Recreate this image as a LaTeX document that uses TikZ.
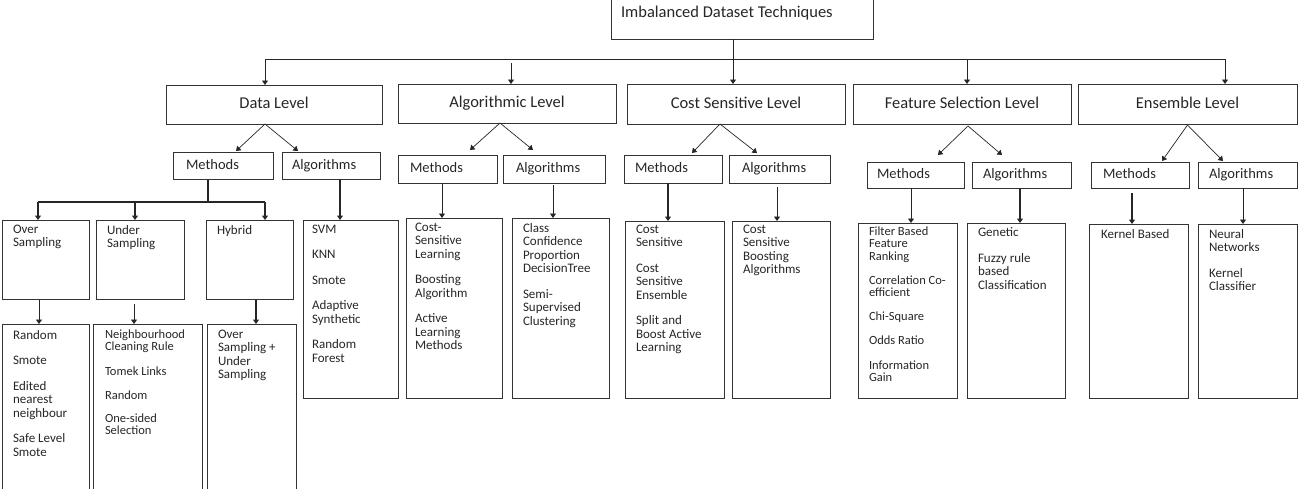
\documentclass[tikz,border=0pt]{standalone}
\usepackage{fontspec}
\setmainfont{Carlito}
\usetikzlibrary{arrows.meta,calc}
\begin{document}
\begin{tikzpicture}[x=1pt,y=-1pt,
  bx/.style={draw=black!80, line width=0.9pt, inner sep=0pt, outer sep=0pt, anchor=north west},
  lvl/.style={bx, font=\fontsize{16.5}{18}\selectfont, text=black!85, text height=11.5pt, text depth=3.5pt},
  sub/.style={bx, font=\fontsize{14.5}{16}\selectfont, text=black!85, align=left, text height=10pt, text depth=3pt},
  lst/.style={inner sep=0pt, outer sep=0pt, anchor=north west, align=left, text=black!85,
    font=\fontsize{13}{13.5}\selectfont},
  lsts/.style={lst, font=\fontsize{12.5}{12.2}\selectfont},
  ln/.style={draw=black!85, line width=0.9pt},
  lnt/.style={draw=black!85, line width=1.8pt},
  arr/.style={ln, -{Triangle[length=4.5pt,width=6pt]}},
  arrt/.style={lnt, -{Triangle[length=4.5pt,width=6pt]}},
  arrm/.style={draw=black!85, line width=1.3pt, -{Triangle[length=4.5pt,width=6pt]}}
]
\path[use as bounding box] (0,0) rectangle (1298,488);

% top
\node[bx, minimum width=262pt, minimum height=41pt] (top) at (611,-2) {};
\node[lst, font=\fontsize{16.5}{18}\selectfont] (toptxt) at ($(top.north west)+(10,8)$) {Imbalanced Dataset Techniques};

% level boxes
\node[lvl, minimum width=216pt, minimum height=39pt] (dl) at (166,85) {Data Level};
\node[lvl, minimum width=218pt, minimum height=39pt] (al) at (398,84) {Algorithmic Level};
\node[lvl, minimum width=218pt, minimum height=40pt] (csl) at (627,84) {Cost Sensitive Level};
\node[lvl, minimum width=218pt, minimum height=40pt] (fsl) at (853,84) {Feature Selection Level};
\node[lvl, minimum width=219pt, minimum height=40pt] (enl) at (1078,84) {Ensemble Level};

% methods / algorithms
\node[sub, minimum width=100pt, minimum height=27pt, text width=74pt, inner xsep=13pt] (dlm) at (173,152) {Methods};
\node[sub, minimum width=98pt, minimum height=27pt, text width=78pt, inner xsep=10pt] (dla) at (282,152) {Algorithms};
\node[sub, minimum width=99pt, minimum height=28pt, text width=75pt, inner xsep=12pt] (alm) at (398,155) {Methods};
\node[sub, minimum width=102pt, minimum height=28pt, text width=76pt, inner xsep=13pt] (ala) at (503,155) {Algorithms};
\node[sub, minimum width=98pt, minimum height=28pt, text width=76pt, inner xsep=11pt] (csm) at (624,155) {Methods};
\node[sub, minimum width=101pt, minimum height=28pt, text width=75pt, inner xsep=13pt] (csa) at (729,155) {Algorithms};
\node[sub, minimum width=97pt, minimum height=26pt, text width=77pt, inner xsep=10pt] (fsm) at (867,162) {Methods};
\node[sub, minimum width=99pt, minimum height=26pt, text width=77pt, inner xsep=11pt] (fsa) at (972,162) {Algorithms};
\node[sub, minimum width=98pt, minimum height=26pt, text width=74pt, inner xsep=12pt] (enm) at (1091,162) {Methods};
\node[sub, minimum width=99pt, minimum height=26pt, text width=77pt, inner xsep=11pt] (ena) at (1198,162) {Algorithms};

% data level sub boxes
\node[bx, minimum width=87pt, minimum height=79pt] (os) at (2,220) {};
\node[bx, minimum width=88pt, minimum height=79pt] (us) at (96,220) {};
\node[bx, minimum width=87pt, minimum height=79pt] (hy) at (206,220) {};
\node[bx, minimum width=87pt, minimum height=175pt] (rnd) at (2,324) {};
\node[bx, minimum width=109pt, minimum height=175pt] (nb) at (93,324) {};
\node[bx, minimum width=89pt, minimum height=175pt] (osus) at (207,324) {};
\node[bx, minimum width=95pt, minimum height=178pt] (svm) at (303,220) {};
% other list boxes
\node[bx, minimum width=96pt, minimum height=180pt] (csla) at (406,218) {};
\node[bx, minimum width=97pt, minimum height=180pt] (ccp) at (512,218) {};
\node[bx, minimum width=99pt, minimum height=177pt] (cs1) at (625,221) {};
\node[bx, minimum width=98pt, minimum height=177pt] (cs2) at (732,221) {};
\node[bx, minimum width=99pt, minimum height=175pt] (fb) at (858,223) {};
\node[bx, minimum width=98pt, minimum height=175pt] (gen) at (967,223) {};
\node[bx, minimum width=99pt, minimum height=174pt] (kb) at (1089,224) {};
\node[bx, minimum width=99pt, minimum height=174pt] (nn) at (1198,224) {};

% texts
\node[lst] (ostx) at ($(os.north west)+(11,5)$) {Over\\Sampling};
\node[lst] (ustx) at ($(us.north west)+(11,5)$) {Under\\Sampling};
\node[lst] (hytx) at ($(hy.north west)+(11,5)$) {Hybrid};
\node[lst] (rndtx) at ($(rnd.north west)+(11,6)$) {Random\\[12pt]Smote\\[12pt]Edited\\nearest\\neighbour\\[12pt]Safe Level\\Smote};
\node[lsts] (nbtx) at ($(nb.north west)+(12,6)$) {Neighbourhood\\Cleaning Rule\\[12pt]Tomek Links\\[12pt]Random\\[11pt]One-sided\\Selection};
\node[lst] (osustx) at ($(osus.north west)+(11,6)$) {Over\\Sampling +\\Under\\Sampling};
\node[lst] (svmtx) at ($(svm.north west)+(9,5)$) {SVM\\[12pt]KNN\\[12pt]Smote\\[12pt]Adaptive\\Synthetic\\[12pt]Random\\Forest};
\node[lst] (cslatx) at ($(csla.north west)+(9,5)$) {Cost-\\Sensitive\\Learning\\[12pt]Boosting\\Algorithm\\[12pt]Active\\Learning\\Methods};
\node[lst] (ccptx) at ($(ccp.north west)+(11,5)$) {Class\\Confidence\\Proportion\\DecisionTree\\[12pt]Semi-\\Supervised\\Clustering};
\node[lst] (cs1tx) at ($(cs1.north west)+(11,4)$) {Cost\\Sensitive\\[12pt]Cost\\Sensitive\\Ensemble\\[12pt]Split and\\Boost Active\\Learning};
\node[lst] (cs2tx) at ($(cs2.north west)+(11,4)$) {Cost\\Sensitive\\Boosting\\Algorithms};
\node[lsts] (fbtx) at ($(fb.north west)+(11,4)$) {Filter Based\\Feature\\Ranking\\[12pt]Correlation Co-\\efficient\\[12pt]Chi-Square\\[12pt]Odds Ratio\\[12pt]Information\\Gain};
\node[lst] (gentx) at ($(gen.north west)+(11,5)$) {Genetic\\[12pt]Fuzzy rule\\based\\Classification};
\node[lst] (kbtx) at ($(kb.north west)+(12,5)$) {Kernel Based};
\node[lst] (nntx) at ($(nn.north west)+(11,5)$) {Neural\\Networks\\[12pt]Kernel\\Classifier};

% top bus
\coordinate (b1) at (265,59);
\coordinate (b2) at (511,63);
\coordinate (bj) at (733,59);
\coordinate (b4) at (967,59);
\coordinate (bE) at (1225,59);
\draw[ln] (b1) -- (bE);
\draw[arr] (bj |- top.south) -- (bj |- csl.north);
\draw[arr] (b1) -- (b1 |- dl.north);
\draw[arr] (b2) -- (b2 |- al.north);
\draw[arr] (b4) -- (b4 |- fsl.north);
\draw[arr] (bE) -- (bE |- enl.north);

% diverging arrows
\draw[arr, line width=0.7pt] ($(dl.south)+(-9,0)$) -- ($(dlm.north west)+(63,-1)$);
\draw[arr, line width=0.7pt] ($(dl.south)+(-9,0)$) -- ($(dla.north west)+(16,-1)$);
\draw[arr, line width=0.7pt] ($(al.south)+(-7,0)$) -- ($(alm.north west)+(72,-5)$);
\draw[arr, line width=0.7pt] ($(al.south)+(-7,0)$) -- ($(ala.north west)+(30,-5)$);
\draw[arr, line width=0.7pt] ($(csl.south)+(-16,0)$) -- ($(csm.north west)+(68,-2)$);
\draw[arr, line width=0.7pt] ($(csl.south)+(-16,0)$) -- ($(csa.north west)+(28,-2)$);
\draw[arr, line width=0.7pt] ($(fsl.south)+(6,2)$) -- ($(fsm.north west)+(71,-7)$);
\draw[arr, line width=0.7pt] ($(fsl.south)+(6,2)$) -- ($(fsa.north west)+(30,-7)$);
\draw[arr, line width=0.7pt] ($(enl.south)+(0,1)$) -- ($(enm.north west)+(71,-1)$);
\draw[arr, line width=0.7pt] ($(enl.south)+(0,1)$) -- ($(ena.north west)+(25,-1)$);

% data level methods split
\coordinate (dbL) at (38,202);
\coordinate (dbM) at (135,202);
\coordinate (dbR) at (265,202);
\draw[lnt] ($(dlm.south west)+(35,0)$) -- ($(dlm.south west)+(35,23)$);
\draw[lnt] (dbL) -- (dbR);
\draw[arrm] (dbL) -- (dbL |- os.north);
\draw[arrm] (dbM) -- (dbM |- us.north);
\draw[arrm] (dbR) -- (dbR |- hy.north);

% down connectors
\draw[arrt] ($(dla.south west)+(58,0)$) -- ($(svm.north west)+(37,0)$);
\draw[arr] ($(alm.south west)+(44,0)$) -- ($(csla.north west)+(36,0)$);
\draw[arr] ($(ala.south west)+(50,2)$) -- ($(ccp.north west)+(41,0)$);
\draw[arrt] ($(csm.south west)+(44,0)$) -- ($(cs1.north west)+(43,0)$);
\draw[arr] ($(csa.south west)+(48,4)$) -- ($(cs2.north west)+(45,0)$);
\draw[arr] ($(fsm.south west)+(44,0)$) -- ($(fb.north west)+(53,0)$);
\draw[arrt] ($(fsa.south west)+(48,0)$) -- ($(gen.north west)+(53,0)$);
\draw[arrm] ($(enm.south west)+(41,5)$) -- ($(kb.north west)+(43,0)$);
\draw[arr] ($(ena.south west)+(45,0)$) -- ($(nn.north west)+(45,0)$);
\draw[arr] ($(os.south west)+(37,0)$) -- ($(rnd.north west)+(37,0)$);
\draw[arr] ($(us.south west)+(38,5)$) -- ($(nb.north west)+(41,0)$);
\draw[arrt] ($(hy.south west)+(50,0)$) -- ($(osus.north west)+(49,0)$);
\end{tikzpicture}
\end{document}
